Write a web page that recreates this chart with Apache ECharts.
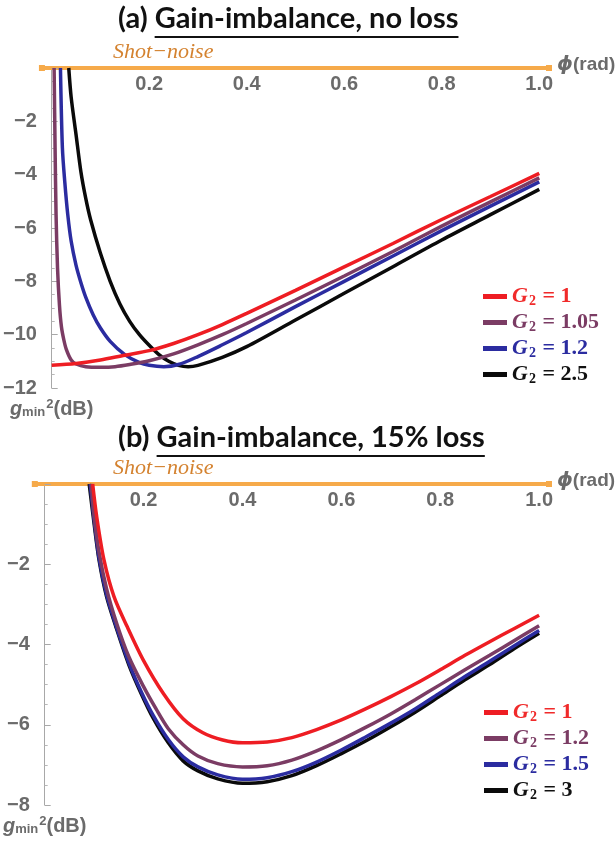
<!DOCTYPE html>
<html>
<head>
<meta charset="utf-8">
<script src="https://cdn.jsdelivr.net/npm/echarts@6/dist/echarts.min.js"></script>
<style>
  html, body { margin: 0; padding: 0; background: #fff; }
  #chart { width: 616px; height: 847px; }
</style>
</head>
<body>
<div id="chart"></div>
<script>
// (a) gain-imbalance, no loss  -- [phi, dB]
const aLabels = ['1', '1.05', '1.2', '2.5']
const aRed = [[0, -11.15], [0.05, -11.08], [0.1, -10.95], [0.15, -10.77], [0.2, -10.6], [0.25, -10.33],
  [0.3, -10.0], [0.35, -9.62], [0.4, -9.2], [0.5, -8.34], [0.6, -7.46], [0.7, -6.58], [0.8, -5.68],
  [0.9, -4.82], [1.0, -3.95]]
const aPurple = [[0.005, 0], [0.007, -3], [0.009, -5.5], [0.012, -7.5], [0.016, -8.9], [0.02, -9.7],
  [0.025, -10.2], [0.03, -10.55], [0.04, -10.95], [0.05, -11.1], [0.07, -11.2], [0.1, -11.22],
  [0.13, -11.2], [0.16, -11.12], [0.2, -10.98], [0.25, -10.72], [0.3, -10.38], [0.35, -10.0],
  [0.4, -9.58], [0.5, -8.7], [0.6, -7.8], [0.7, -6.88], [0.8, -5.93], [0.9, -5.02], [1.0, -4.12]]
const aBlue = [[0.018, 0], [0.022, -3.0], [0.027, -4.3], [0.033, -5.5], [0.04, -6.5], [0.05, -7.4],
  [0.06, -8.05], [0.07, -8.6], [0.085, -9.25], [0.1, -9.75], [0.12, -10.25], [0.15, -10.75],
  [0.18, -11.05], [0.2, -11.15], [0.23, -11.2], [0.26, -11.12], [0.3, -10.82], [0.35, -10.38],
  [0.4, -9.92], [0.5, -8.95], [0.6, -8.0], [0.7, -7.05], [0.8, -6.1], [0.9, -5.18], [1.0, -4.27]]
const aBlack = [[0.035, 0], [0.04, -1.1], [0.05, -2.5], [0.06, -3.9], [0.07, -4.9], [0.08, -5.7],
  [0.1, -6.95], [0.12, -8.0], [0.14, -8.85], [0.16, -9.5], [0.18, -10.0], [0.2, -10.4],
  [0.22, -10.75], [0.24, -11.0], [0.26, -11.15], [0.28, -11.2], [0.3, -11.15], [0.35, -10.85],
  [0.4, -10.45], [0.5, -9.45], [0.6, -8.45], [0.7, -7.45], [0.8, -6.45], [0.9, -5.5], [1.0, -4.55]]

// (b) gain-imbalance, 15% loss
const bLabels = ['1', '1.2', '1.5', '3']
const bRed = [[0.097, 0], [0.105, -0.8], [0.12, -1.9], [0.14, -2.8], [0.167, -3.56], [0.2, -4.4],
  [0.24, -5.22], [0.28, -5.85], [0.32, -6.2], [0.36, -6.38], [0.4, -6.45], [0.45, -6.43],
  [0.5, -6.32], [0.55, -6.12], [0.6, -5.88], [0.65, -5.6], [0.7, -5.3], [0.75, -4.98],
  [0.8, -4.63], [0.85, -4.27], [0.9, -3.93], [0.95, -3.6], [1.0, -3.27]]
const bPurple = [[0.094, 0], [0.1, -0.8], [0.11, -1.7], [0.125, -2.6], [0.145, -3.45], [0.17, -4.3],
  [0.2, -5.05], [0.225, -5.6], [0.25, -6.1], [0.28, -6.5], [0.31, -6.78], [0.35, -6.97],
  [0.4, -7.05], [0.45, -7.02], [0.5, -6.88], [0.55, -6.65], [0.6, -6.37], [0.65, -6.06],
  [0.7, -5.73], [0.75, -5.37], [0.8, -5.0], [0.85, -4.63], [0.9, -4.27], [0.95, -3.9], [1.0, -3.53]]
const bBlue = [[0.092, 0], [0.1, -0.9], [0.11, -1.85], [0.125, -2.75], [0.144, -3.52], [0.17, -4.45],
  [0.195, -5.17], [0.22, -5.78], [0.25, -6.37], [0.28, -6.8], [0.31, -7.05], [0.35, -7.25],
  [0.4, -7.36], [0.45, -7.32], [0.5, -7.17], [0.55, -6.93], [0.6, -6.63], [0.65, -6.3],
  [0.7, -5.96], [0.75, -5.6], [0.8, -5.2], [0.85, -4.8], [0.9, -4.42], [0.95, -4.03], [1.0, -3.65]]
const bBlack = [[0.09, 0], [0.1, -1.0], [0.11, -1.9], [0.125, -2.8], [0.144, -3.56], [0.17, -4.5],
  [0.195, -5.22], [0.22, -5.85], [0.25, -6.45], [0.28, -6.9], [0.31, -7.15], [0.35, -7.35],
  [0.4, -7.46], [0.45, -7.42], [0.5, -7.27], [0.55, -7.02], [0.6, -6.72], [0.65, -6.4],
  [0.7, -6.05], [0.75, -5.68], [0.8, -5.28], [0.85, -4.88], [0.9, -4.5], [0.95, -4.1], [1.0, -3.72]]

const xTicks = [0.2, 0.4, 0.6, 0.8, 1.0]
const colors = ['#ee1d23', '#7b3c64', '#2b2ca0', '#0a0a0a']
const textColors = ['#f02a2a', '#7b3c64', '#2b2ca0', '#111']

const gray = '#6b6b6b'
const orange = '#f6aa4a'

function textWidth(str, font) {
  let ctx = document.createElement('canvas').getContext('2d')
  ctx.font = font
  return ctx.measureText(str).width
}

function xAxisOf(i) {
  return {
    gridIndex: i,
    type: 'value',
    position: 'top',
    min: -0.02,
    max: 1.02,
    name: '{p|ϕ}{r|(rad)}',
    nameLocation: 'end',
    nameGap: 4,
    nameTextStyle: {
      padding: [0, 0, 6, 0],
      rich: {
        p: { color: gray, fontSize: 20, fontWeight: 'bold', fontStyle: 'italic', fontFamily: 'DejaVu Sans' },
        r: { color: gray, fontSize: 19, fontWeight: 'bold', fontFamily: 'Liberation Sans' }
      }
    },
    axisLine: {
      onZero: false,
      symbol: ['rect', 'rect'],
      symbolSize: [6, 6],
      lineStyle: { color: orange, width: 4, type: [1, 1] }
    },
    axisTick: { show: false },
    splitLine: { show: false },
    axisLabel: {
      inside: true,
      customValues: xTicks,
      formatter: v => v.toFixed(1),
      margin: 6,
      color: gray,
      fontSize: 20,
      fontWeight: 'bold',
      fontFamily: 'Liberation Sans'
    }
  }
}

function yAxisOf(i, min) {
  return {
    gridIndex: i,
    type: 'value',
    min: min,
    max: 0,
    interval: 2,
    name: '{g|g}{m|min}{s|2}{d|(dB)}',
    nameLocation: 'start',
    nameGap: 6,
    nameTextStyle: {
      rich: {
        g: { color: gray, fontSize: 20, fontWeight: 'bold', fontStyle: 'italic', fontFamily: 'Liberation Sans' },
        m: { color: gray, fontSize: 13, fontWeight: 'bold', fontFamily: 'Liberation Sans', padding: [6, 0, 0, 0] },
        s: { color: gray, fontSize: 13, fontWeight: 'bold', fontFamily: 'Liberation Sans', padding: [0, 0, 10, 1] },
        d: { color: gray, fontSize: 20, fontWeight: 'bold', fontFamily: 'Liberation Sans' }
      }
    },
    axisLine: { show: true, onZero: true, lineStyle: { color: '#a8a8a8', width: 1 } },
    axisTick: { show: true, inside: true, length: 6, lineStyle: { color: '#a8a8a8' } },
    minorTick: { show: true, splitNumber: 4, length: 3, lineStyle: { color: '#b8b8b8' } },
    splitLine: { show: false },
    axisLabel: {
      formatter: v => (v === 0 ? '' : '\u2212' + Math.abs(v)),
      margin: 5,
      color: gray,
      fontSize: 20,
      fontWeight: 'bold',
      fontFamily: 'Liberation Sans'
    }
  }
}

function legendOf(prefix, labels, left, top) {
  return {
    orient: 'vertical',
    left: left,
    top: top,
    icon: 'rect',
    itemWidth: 24,
    itemHeight: 5,
    itemGap: 3,
    selectedMode: false,
    data: labels.map((l, k) => ({ name: prefix + '|' + l, textStyle: { color: textColors[k] } })),
    formatter: name => '{g|G}{s|2}{t| = ' + name.split('|')[1] + '}',
    textStyle: {
      rich: {
        g: { fontSize: 22, lineHeight: 20, fontWeight: 'bold', fontStyle: 'italic', fontFamily: 'Liberation Serif' },
        s: { fontSize: 14, lineHeight: 20, fontWeight: 'bold', fontFamily: 'Liberation Serif', padding: [9, 1, 0, 1] },
        t: { fontSize: 22, lineHeight: 20, fontWeight: 'bold', fontFamily: 'Liberation Serif' }
      }
    }
  }
}

function seriesOf(prefix, i, labels, sets) {
  return sets.map((d, k) => ({
    name: prefix + '|' + labels[k],
    type: 'line',
    xAxisIndex: i,
    yAxisIndex: i,
    data: d,
    showSymbol: false,
    smooth: 0.3,
    color: colors[k],
    lineStyle: { width: 3.5, color: colors[k] },
    z: 10 - k
  }))
}

// 标题 + 下划线
let titleSize = 29
let titleFont = 'bold ' + titleSize + 'px Lato'
function titleParts(prefix, main, top, lineY) {
  let w1 = textWidth(prefix, titleFont)
  let w2 = textWidth(main, titleFont)
  return [
    {
      type: 'text', left: 118, top: top,
      style: { text: prefix + main, fontSize: titleSize, fontWeight: 'bold', fontFamily: 'Lato', fill: '#111' }
    },
    {
      type: 'line',
      shape: { x1: 118 + w1, y1: lineY, x2: 118 + w1 + w2, y2: lineY },
      style: { stroke: '#111', lineWidth: 2 }
    }
  ]
}

function shotNoise(top) {
  return {
    type: 'text', left: 113, top: top,
    style: { text: 'Shot\u2212noise', fontSize: 22, fontStyle: 'italic', fontFamily: 'Liberation Serif', fill: '#d4822f' }
  }
}

let chart = echarts.init(document.getElementById('chart'))
let option = {
  animation: false,
  backgroundColor: '#fff',
  grid: [
    { left: 32.5, width: 518, top: 68, height: 320 },
    { left: 32.5, width: 518, top: 484, height: 321 }
  ],
  xAxis: [xAxisOf(0), xAxisOf(1)],
  yAxis: [yAxisOf(0, -12), yAxisOf(1, -8)],
  legend: [
    legendOf('a', aLabels, 478, 280),
    legendOf('b', bLabels, 479, 696)
  ],
  graphic: [
    ...titleParts('(a) ', 'Gain-imbalance, no loss', 4, 37),
    ...titleParts('(b) ', 'Gain-imbalance, 15% loss', 423, 456),
    shotNoise(41),
    shotNoise(457)
  ],
  series: [
    ...seriesOf('a', 0, aLabels, [aRed, aPurple, aBlue, aBlack]),
    ...seriesOf('b', 1, bLabels, [bRed, bPurple, bBlue, bBlack])
  ]
}
chart.setOption(option)
</script>
</body>
</html>
